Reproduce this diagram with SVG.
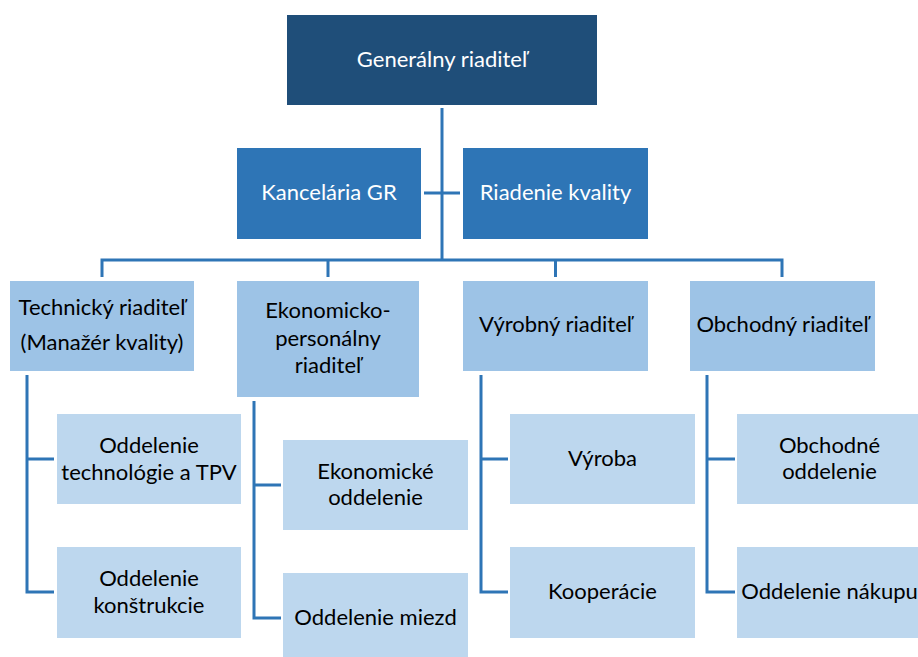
<svg xmlns="http://www.w3.org/2000/svg" width="918" height="657" viewBox="0 0 918 657">
<style>
text{font-family:Lato,"Open Sans","Liberation Sans",sans-serif;font-size:22px;text-anchor:middle;fill:#000}
.w{fill:#fff}
.l0{fill:#1F4E79}
.l1{fill:#2E75B6}
.l2{fill:#9DC3E6}
.l3{fill:#BDD7EE}
.c{fill:none;stroke:#2E75B6;stroke-width:3}
</style>
<rect width="918" height="657" fill="#fff"/>
<g id="connectors" class="c">
<path d="M442 108V260"/>
<path d="M424 193H460"/>
<path d="M102 277V260H782V277M328 260V277M555.5 260V277"/>
<path d="M27 375V592H54M27 459H54"/>
<path d="M254 401V618H281M254 485H281"/>
<path d="M481 375V592H508M481 459H508"/>
<path d="M707 375V592H735M707 459H735"/>
</g>
<g id="n-gr"><rect class="l0" x="287" y="15" width="310" height="90"/><text class="w" x="442" y="67">Generálny riaditeľ</text></g>
<g id="n-kanc"><rect class="l1" x="237" y="148" width="184" height="91"/><text class="w" x="329" y="200">Kancelária GR</text></g>
<g id="n-riad"><rect class="l1" x="463" y="148" width="185" height="91"/><text class="w" x="555.5" y="200">Riadenie kvality</text></g>
<g id="n-tech"><rect class="l2" x="10" y="281" width="184" height="90"/><text x="102" y="315">Technický riaditeľ</text><text x="102" y="350">(Manažér kvality)</text></g>
<g id="n-eko"><rect class="l2" x="237" y="281" width="182" height="116"/><text x="328" y="318">Ekonomicko-</text><text x="328" y="346">personálny</text><text x="328" y="373">riaditeľ</text></g>
<g id="n-vyr"><rect class="l2" x="463" y="281" width="185" height="90"/><text x="555.5" y="332">Výrobný riaditeľ</text></g>
<g id="n-obch"><rect class="l2" x="690" y="281" width="185" height="90"/><text x="782.5" y="332">Obchodný riaditeľ</text></g>
<g id="n-tpv"><rect class="l3" x="57" y="414" width="184" height="90"/><text x="149" y="453">Oddelenie</text><text x="149" y="480">technológie a TPV</text></g>
<g id="n-konst"><rect class="l3" x="57" y="547" width="184" height="91"/><text x="149" y="586">Oddelenie</text><text x="149" y="613">konštrukcie</text></g>
<g id="n-ekood"><rect class="l3" x="283" y="440" width="185" height="90"/><text x="375.5" y="479">Ekonomické</text><text x="375.5" y="505">oddelenie</text></g>
<g id="n-miezd"><rect class="l3" x="283" y="573" width="185" height="90"/><text x="375.5" y="625">Oddelenie miezd</text></g>
<g id="n-vyroba"><rect class="l3" x="510" y="414" width="185" height="90"/><text x="602.5" y="466">Výroba</text></g>
<g id="n-koop"><rect class="l3" x="510" y="547" width="185" height="91"/><text x="602.5" y="599">Kooperácie</text></g>
<g id="n-obchod"><rect class="l3" x="737" y="414" width="185" height="90"/><text x="829.5" y="453">Obchodné</text><text x="829.5" y="479">oddelenie</text></g>
<g id="n-nakup"><rect class="l3" x="737" y="547" width="185" height="91"/><text x="829.5" y="599">Oddelenie nákupu</text></g>
</svg>
